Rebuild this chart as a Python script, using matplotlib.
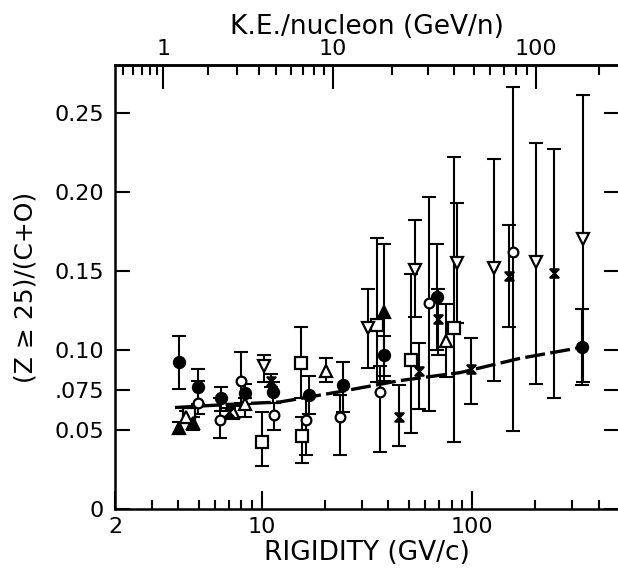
"""(Z>=25)/(C+O) ratio vs rigidity, with the K.E./nucleon scale on top."""

import numpy as np
import matplotlib
matplotlib.use("Agg")
import matplotlib.pyplot as plt
from matplotlib.path import Path

# each series: rigidity (GV/c), ratio, lower end of bar, upper end of bar
fcirc_r = [4.03, 4.96, 6.38, 8.30, 11.3, 16.7, 24.3, 38.1, 68.1, 334]
fcirc_y = [0.093, 0.077, 0.070, 0.073, 0.074, 0.072, 0.078, 0.097, 0.134, 0.102]
fcirc_lo = [0.076, 0.066, 0.062, 0.066, 0.067, 0.060, 0.061, 0.081, 0.100, 0.078]
fcirc_hi = [0.109, 0.088, 0.077, 0.079, 0.080, 0.084, 0.093, 0.109, 0.167, 0.126]

ocirc_r = [4.96, 6.31, 7.94, 11.4, 16.2, 23.5, 36.5, 62.4, 157]
ocirc_y = [0.067, 0.056, 0.081, 0.059, 0.056, 0.058, 0.074, 0.130, 0.162]
ocirc_lo = [0.060, 0.045, 0.067, 0.050, 0.034, 0.034, 0.036, 0.062, 0.049]
ocirc_hi = [0.081, 0.070, 0.099, 0.067, 0.070, 0.072, 0.090, 0.197, 0.266]

osq_r = [4.5, 10.0, 15.3, 15.5, 35.3, 51.3, 82.1]
osq_y = [0.060, 0.042, 0.092, 0.046, 0.116, 0.094, 0.114]
osq_lo = [0.056, 0.027, 0.070, 0.029, 0.080, 0.048, 0.042]
osq_hi = [0.064, 0.061, 0.115, 0.058, 0.171, 0.148, 0.222]

ftri_r = [4.03, 4.69, 38.1]
ftri_y = [0.051, 0.054, 0.124]
ftri_lo = [0.047, 0.050, 0.084]
ftri_hi = [0.055, 0.058, 0.167]

otri_r = [4.35, 7.28, 8.30, 20.2, 75.2]
otri_y = [0.058, 0.061, 0.066, 0.087, 0.106]
otri_lo = [0.054, 0.057, 0.058, 0.080, 0.083]
otri_hi = [0.062, 0.065, 0.070, 0.095, 0.129]

dtri_r = [10.2, 32.0, 53.5, 84.9, 127, 202, 338]
dtri_y = [0.090, 0.114, 0.151, 0.155, 0.152, 0.156, 0.170]
dtri_lo = [0.080, 0.089, 0.121, 0.117, 0.081, 0.079, 0.080]
dtri_hi = [0.097, 0.139, 0.182, 0.193, 0.221, 0.231, 0.261]

hg_r = [7.0, 11.0, 44.9, 56.0, 68.9, 98.9, 150, 246]
hg_y = [0.061, 0.081, 0.058, 0.087, 0.120, 0.088, 0.147, 0.149]
hg_lo = [0.058, 0.077, 0.040, 0.063, 0.097, 0.066, 0.115, 0.070]
hg_hi = [0.064, 0.085, 0.078, 0.105, 0.139, 0.108, 0.179, 0.227]

# dashed fit curve
fit_r = [3.86, 7.04, 12.2, 23.5, 45.4, 87.7, 169, 334]
fit_y = [0.064, 0.066, 0.0675, 0.074, 0.081, 0.086, 0.095, 0.102]

ytick_vals = [0, 0.05, 0.075, 0.10, 0.15, 0.20, 0.25]
ytick_labels = ["0", "0.05", ".075", "0.10", "0.15", "0.20", "0.25"]

M_P = 0.938  # proton mass, GeV
A_OVER_Z = 2.0


def rig_to_ke(r):
    r = np.asarray(r, dtype=float)
    return np.sqrt((r / A_OVER_Z) ** 2 + M_P ** 2) - M_P


def ke_to_rig(t):
    t = np.clip(np.asarray(t, dtype=float), 1e-6, None)
    return A_OVER_Z * np.sqrt(t ** 2 + 2 * t * M_P)


hourglass = Path([(-1, 1), (1, 1), (-1, -1), (1, -1), (-1, 1)],
                 [Path.MOVETO, Path.LINETO, Path.LINETO, Path.LINETO, Path.CLOSEPOLY])

series = [
    (fcirc_r, fcirc_y, fcirc_lo, fcirc_hi, "o", "black", 8),
    (ocirc_r, ocirc_y, ocirc_lo, ocirc_hi, "o", "white", 7),
    (osq_r, osq_y, osq_lo, osq_hi, "s", "white", 8),
    (ftri_r, ftri_y, ftri_lo, ftri_hi, "^", "black", 8),
    (otri_r, otri_y, otri_lo, otri_hi, "^", "white", 8),
    (dtri_r, dtri_y, dtri_lo, dtri_hi, "v", "white", 9),
    (hg_r, hg_y, hg_lo, hg_hi, hourglass, "black", 6),
]

plt.rcParams["font.family"] = ["DejaVu Sans"]

fig = plt.figure(figsize=(6.18, 5.76), dpi=100)
ax = fig.add_axes([0.186, 0.1163, 0.8155, 0.7708])

ax.plot(fit_r, fit_y, color="black", lw=2.4, ls=(0, (6, 1.6)), zorder=2)

for r, y, lo, hi, mk, fc, ms in series:
    y = np.array(y)
    yerr = [y - np.array(lo), np.array(hi) - y]
    ax.errorbar(r, y, yerr=yerr, fmt="none", ecolor="black", elinewidth=1.5,
                capsize=5, capthick=1.5, zorder=3)
    ax.plot(r, y, ls="none", marker=mk, ms=ms, mfc=fc, mec="black", mew=1.6, zorder=4)

ax.set_xscale("log")
ax.set_xlim(2, 500)
ax.set_ylim(0, 0.28)

ax.set_xticks([2, 10, 100])
ax.set_xticklabels(["2", "10", "100"])
ax.set_xticks([3, 4, 5, 6, 7, 8, 9, 20, 30, 40, 50, 60, 70, 80, 90, 200, 300, 400],
              minor=True)
ax.xaxis.set_minor_formatter(matplotlib.ticker.NullFormatter())
ax.set_yticks(ytick_vals)
ax.set_yticklabels(ytick_labels)

ax.tick_params(axis="x", which="major", direction="in", length=13, width=1.5,
               top=False, labelsize=16, pad=6)
ax.tick_params(axis="x", which="minor", direction="in", length=6.5, width=1.5, top=False)
ax.tick_params(axis="y", which="major", direction="in", length=11, width=1.5,
               left=True, right=True, labelsize=16, pad=8)
for s in ax.spines.values():
    s.set_linewidth(1.8)

ax.set_xlabel("RIGIDITY (GV/c)", fontsize=19, labelpad=2)
ax.set_ylabel("(Z ≥ 25)/(C+O)", fontsize=18, labelpad=12)

top = ax.secondary_xaxis("top", functions=(rig_to_ke, ke_to_rig))
top.set_xticks([1, 10, 100])
top.set_xticklabels(["1", "10", "100"])
top.set_xticks([0.5, 0.6, 0.7, 0.8, 0.9, 2, 3, 4, 5, 6, 7, 8, 9,
                20, 30, 40, 50, 60, 70, 80, 90, 200], minor=True)
top.xaxis.set_minor_formatter(matplotlib.ticker.NullFormatter())
top.tick_params(which="major", direction="in", length=17, width=1.5, labelsize=16, pad=4)
top.tick_params(which="minor", direction="in", length=7, width=1.5)
top.spines["top"].set_linewidth(1.8)
top.set_xlabel("K.E./nucleon (GeV/n)", fontsize=19, labelpad=4)

fig.savefig("out.png", dpi=100)
